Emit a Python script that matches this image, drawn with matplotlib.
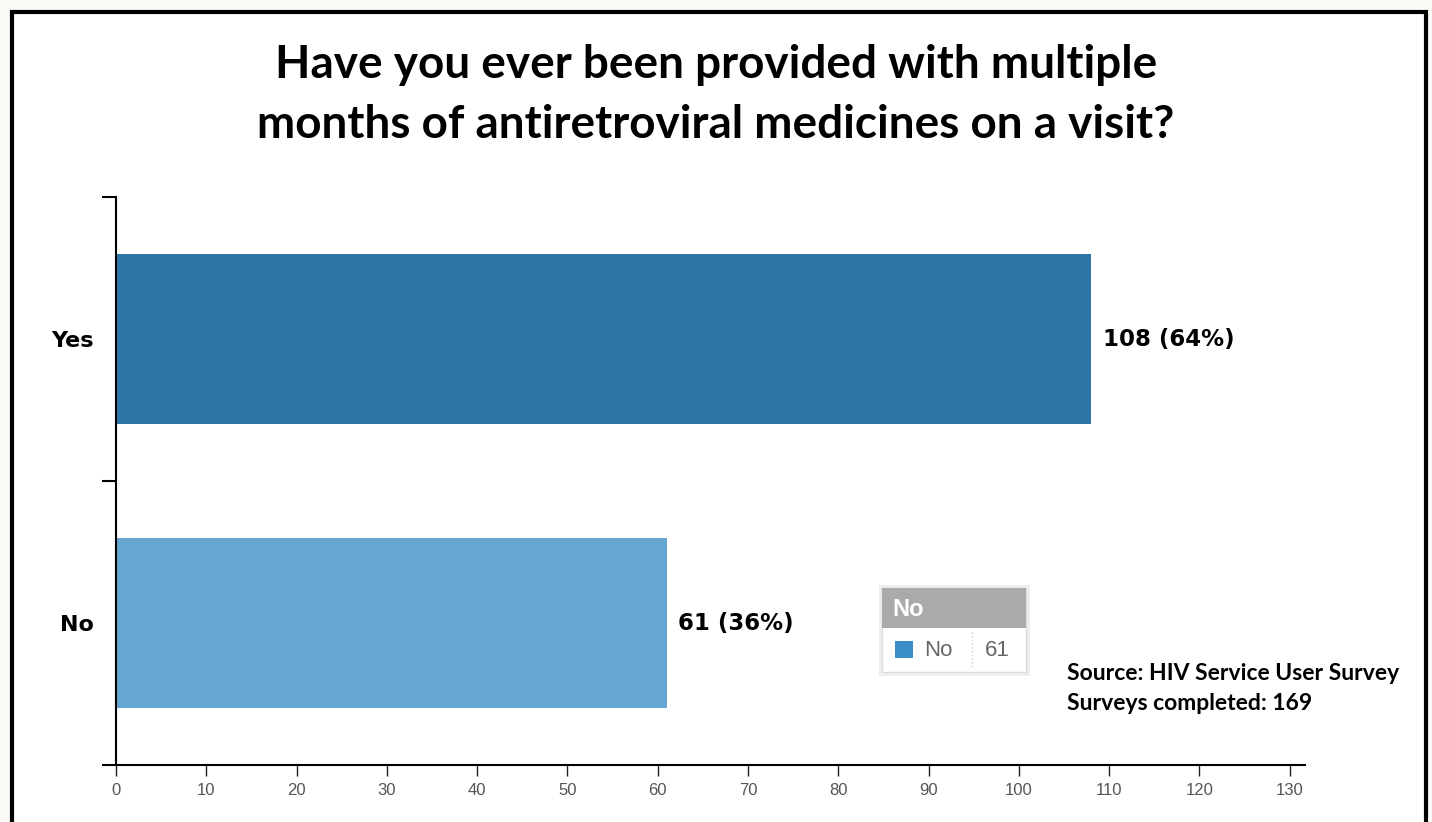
import matplotlib
matplotlib.use("Agg")
import matplotlib.pyplot as plt
from matplotlib.patches import Rectangle

# data
categories = ["No", "Yes"]
counts = [61, 108]
percents = [36, 64]
bar_colors = ["#66a6d2", "#2e76a6"]
x_ticks = list(range(0, 131, 10))
title = "Have you ever been provided with multiple\nmonths of antiretroviral medicines on a visit?"
source_lines = ["Source: HIV Service User Survey", "Surveys completed: 169"]

W, H = 1432, 822
plt.rcParams["font.family"] = ["Lato", "DejaVu Sans"]
label_font = ["DejaVu Sans"]
ui_font = ["Liberation Sans", "DejaVu Sans"]

fig = plt.figure(figsize=(W / 100, H / 100), dpi=100)
fig.patch.set_facecolor("#fcfaf6")


def fx(px):
    return px / W


def fy(py):
    return 1 - py / H


# white panel with black frame (bottom runs off the image)
fig.patches.append(Rectangle((fx(12), fy(840)), fx(1426) - fx(12), fy(12) - fy(840),
                             transform=fig.transFigure, facecolor="white",
                             edgecolor="black", lw=3, zorder=-5))

ax = fig.add_axes([fx(116), fy(765), fx(1305) - fx(116), fy(197) - fy(765)])
ax.set_zorder(1)
ax.set_facecolor("white")
ypos = list(range(len(categories)))
ax.barh(ypos, counts, height=0.6, color=bar_colors, zorder=2)

ax.set_xlim(0, 131.7)
ax.set_ylim(-0.5, len(categories) - 0.5)
ax.set_xticks(x_ticks)
ax.set_xticklabels([str(t) for t in x_ticks], family=ui_font)
ax.tick_params(axis="x", direction="out", length=8, width=1, colors="#222222",
               labelsize=12, labelcolor="#555555", pad=5)
ax.set_yticks(ypos)
ax.set_yticklabels(categories, fontsize=16, fontweight="bold", family=label_font)
ax.tick_params(axis="y", length=0, pad=16)
ax.set_yticks([-0.5, 0.5, 1.5], minor=True)
ax.tick_params(axis="y", which="minor", length=10, width=1.5, direction="out")
for s in ["top", "right"]:
    ax.spines[s].set_visible(False)
ax.spines["left"].set_linewidth(1.5)
ax.spines["bottom"].set_linewidth(1.5)

for y, c, p in zip(ypos, counts, percents):
    ax.text(c + 1.3, y, f"{c} ({p}%)", va="center", ha="left",
            fontsize=16.5, fontweight="bold", family=label_font)

fig.text(0.5, fy(95), title, ha="center", va="center", fontsize=33,
         fontweight="bold", linespacing=1.55)

# tooltip box
fig.patches.append(Rectangle((fx(879), fy(676)), fx(1030) - fx(879), fy(585) - fy(676),
                             transform=fig.transFigure, facecolor="#eeeeee",
                             edgecolor="none", zorder=3))
fig.patches.append(Rectangle((fx(882), fy(672)), fx(1026) - fx(882), fy(588) - fy(672),
                             transform=fig.transFigure, facecolor="white",
                             edgecolor="#dddddd", lw=1, zorder=3))
fig.patches.append(Rectangle((fx(882), fy(628)), fx(1026) - fx(882), fy(588) - fy(628),
                             transform=fig.transFigure, facecolor="#aaaaaa",
                             edgecolor="none", zorder=4))
fig.patches.append(Rectangle((fx(895), fy(658)), fx(913) - fx(895), fy(641) - fy(658),
                             transform=fig.transFigure, facecolor="#3a8ec6",
                             edgecolor="none", zorder=4))
fig.lines.append(plt.Line2D([fx(972), fx(972)], [fy(632), fy(668)],
                            transform=fig.transFigure, color="#cccccc", lw=1,
                            ls=":", zorder=4))
fig.text(fx(892), fy(609), categories[0], color="white", fontsize=17,
         fontweight="bold", va="center", ha="left", family=ui_font, zorder=5)
fig.text(fx(924), fy(650), categories[0], color="#666666", fontsize=16,
         va="center", ha="left", family=ui_font, zorder=5)
fig.text(fx(985), fy(650), str(counts[0]), color="#666666", fontsize=16,
         va="center", ha="left", family=ui_font, zorder=5)

for i, line in enumerate(source_lines):
    fig.text(fx(1067), fy(673 + 30 * i), line, fontsize=16.5, fontweight="bold",
             va="center", ha="left")

fig.savefig("out.png", dpi=100)
